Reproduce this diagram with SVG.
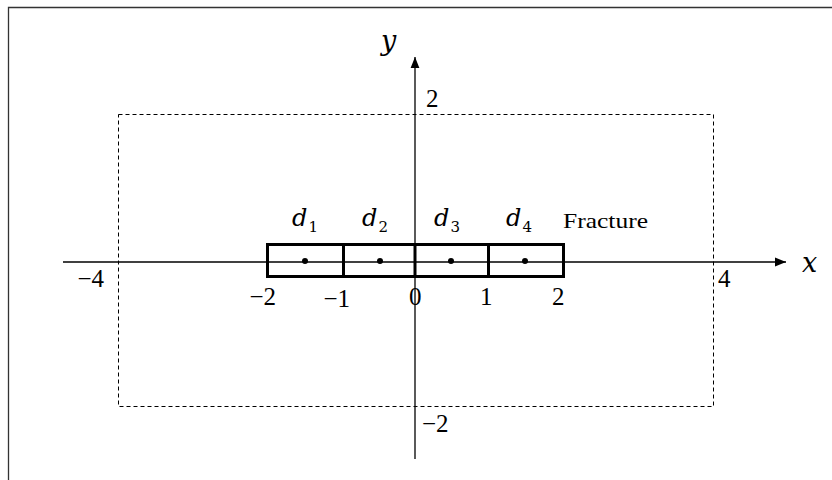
<svg xmlns="http://www.w3.org/2000/svg" width="832" height="480" viewBox="0 0 832 480">
<defs>
<marker id="arr" viewBox="0 0 10 10" refX="10" refY="5" markerWidth="11" markerHeight="11" markerUnits="userSpaceOnUse" orient="auto">
<path d="M0,1 L10,5 L0,9 z" fill="#000"/>
</marker>
<style>
.math{font-family:"DejaVu Serif","Liberation Serif",serif;font-style:italic;font-size:24px;fill:#000}
.axl{font-family:"DejaVu Serif","Liberation Serif",serif;font-style:italic;font-size:27px;fill:#000}
.sub{font-family:"DejaVu Serif","Liberation Serif",serif;font-style:normal;font-size:15px}
.num{font-family:"Liberation Serif","DejaVu Serif",serif;font-size:25px;fill:#000}
.end{text-anchor:end}
.lbl{font-family:"Liberation Serif","DejaVu Serif",serif;font-size:22px;fill:#000}
.cell{fill:none;stroke:#000;stroke-width:3}
.dot{fill:#000}
</style>
</defs>
<rect width="832" height="480" fill="#fff"/>
<g id="frame"><path d="M8.5,480 V7.5 H832" fill="none" stroke="#333" stroke-width="1.3"/></g>
<g id="domain"><rect x="118.5" y="114.5" width="595" height="292" fill="none" stroke="#000" stroke-width="1" stroke-dasharray="4,3"/></g>
<g id="connectors">
<line x1="63" y1="262" x2="786" y2="262" stroke="#000" stroke-width="1.3" marker-end="url(#arr)"/>
<line x1="415" y1="459" x2="415" y2="57" stroke="#000" stroke-width="1.3" marker-end="url(#arr)"/>
</g>
<g id="axis-labels">
<text class="axl" x="381" y="50">y</text>
<text class="axl" x="802" y="272">x</text>
<text class="num" x="426" y="107">2</text>
<text class="num" x="422" y="432">−2</text>
<text class="num end" x="104" y="287">−4</text>
<text class="num" x="718" y="287">4</text>
<text class="num end" x="276" y="305">−2</text>
<text class="num end" x="350" y="307">−1</text>
<text class="num" x="409" y="305">0</text>
<text class="num" x="480" y="305">1</text>
<text class="num" x="552" y="305">2</text>
</g>
<g id="fracture">
<rect class="cell" x="267.5" y="244.5" width="296" height="32"/>
<line class="cell" x1="343.5" y1="244.5" x2="343.5" y2="276.5"/>
<line class="cell" x1="415" y1="244.5" x2="415" y2="276.5"/>
<line class="cell" x1="488.5" y1="244.5" x2="488.5" y2="276.5"/>
<text class="lbl" x="563" y="228" textLength="85" lengthAdjust="spacingAndGlyphs">Fracture</text>
</g>
<g id="d1"><circle class="dot" cx="305" cy="261" r="3"/><text class="math" x="292" y="226">d<tspan class="sub" dx="1" dy="6">1</tspan></text></g>
<g id="d2"><circle class="dot" cx="380" cy="261" r="3"/><text class="math" x="362" y="226">d<tspan class="sub" dx="1" dy="6">2</tspan></text></g>
<g id="d3"><circle class="dot" cx="451" cy="261" r="3"/><text class="math" x="434" y="226">d<tspan class="sub" dx="1" dy="6">3</tspan></text></g>
<g id="d4"><circle class="dot" cx="525" cy="261" r="3"/><text class="math" x="506" y="226">d<tspan class="sub" dx="1" dy="6">4</tspan></text></g>
</svg>
